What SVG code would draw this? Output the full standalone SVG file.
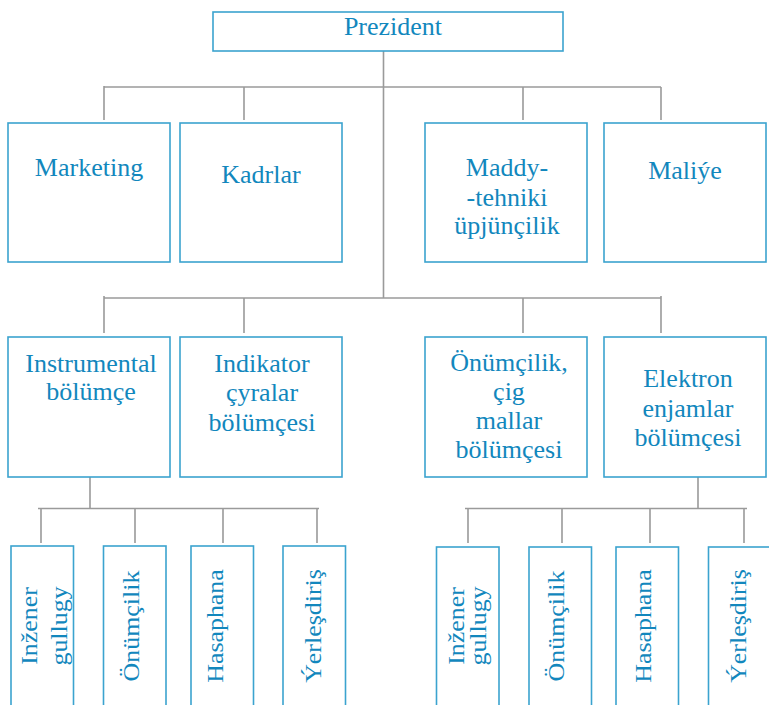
<svg xmlns="http://www.w3.org/2000/svg" width="769" height="705" viewBox="0 0 769 705">
<style>
.box{fill:#fff;stroke:#3ba3cf;stroke-width:1.6}
.t{font-family:"Liberation Serif","Times New Roman",serif;font-size:26px;fill:#1287bd;text-anchor:middle}
.v{font-family:"Liberation Serif","Times New Roman",serif;font-size:24px;fill:#1287bd;text-anchor:middle}
.c{fill:none;stroke:#9a9a9a;stroke-width:1.6}
</style>
<rect width="769" height="705" fill="#fff"/>
<g id="connectors" class="c">
<path d="M383.5,51 V298 M104,87 H661 M104,86 V120 M244,87 V120 M523,87 V120 M661,87 V120"/>
<path d="M104,298 H661 M104,296 V333 M244,298 V333 M523,298 V333 M661,296 V333"/>
<path d="M90,477 V508.5 M38,508.5 H319 M41,508.5 V543 M135,508.5 V543 M223,508.5 V543 M317,508.5 V543"/>
<path d="M698,477 V508.5 M465,508.5 H747 M468,508.5 V543 M562,508.5 V543 M650,508.5 V543 M744,508.5 V543"/>
</g>
<g id="prezident"><rect class="box" x="213" y="12" width="350" height="39"/><text class="t" x="393" y="35">Prezident</text></g>
<g id="marketing"><rect class="box" x="8" y="123" width="162" height="139"/><text class="t" x="89" y="176">Marketing</text></g>
<g id="kadrlar"><rect class="box" x="180" y="123" width="162" height="139"/><text class="t" x="261" y="183">Kadrlar</text></g>
<g id="maddy"><rect class="box" x="425" y="123" width="162" height="139"/><text class="t" x="507" y="176">Maddy-</text><text class="t" x="507" y="206">-tehniki</text><text class="t" x="507" y="234">üpjünçilik</text></g>
<g id="maliye"><rect class="box" x="604" y="123" width="162" height="139"/><text class="t" x="685" y="179">Maliýe</text></g>
<g id="instrumental"><rect class="box" x="8" y="337" width="162" height="140"/><text class="t" x="91" y="372">Instrumental</text><text class="t" x="91" y="400">bölümçe</text></g>
<g id="indikator"><rect class="box" x="180" y="337" width="162" height="140"/><text class="t" x="262" y="372">Indikator</text><text class="t" x="262" y="401">çyralar</text><text class="t" x="262" y="431">bölümçesi</text></g>
<g id="onumcilik-cig"><rect class="box" x="425" y="337" width="162" height="140"/><text class="t" x="509" y="371">Önümçilik,</text><text class="t" x="509" y="400">çig</text><text class="t" x="509" y="429">mallar</text><text class="t" x="509" y="458">bölümçesi</text></g>
<g id="elektron"><rect class="box" x="604" y="337" width="162" height="140"/><text class="t" x="688" y="387">Elektron</text><text class="t" x="688" y="417">enjamlar</text><text class="t" x="688" y="446">bölümçesi</text></g>
<g id="l-inzener"><rect class="box" x="11" y="546" width="62.5" height="180"/><text class="v" transform="translate(37,626) rotate(-90) scale(1.08,1)">Inžener</text><text class="v" transform="translate(67,626) rotate(-90) scale(1.08,1)">gullugy</text></g>
<g id="l-onumcilik"><rect class="box" x="103.5" y="546" width="62.5" height="180"/><text class="v" transform="translate(139,626) rotate(-90) scale(1.08,1)">Önümçilik</text></g>
<g id="l-hasaphana"><rect class="box" x="191" y="546" width="62.5" height="180"/><text class="v" transform="translate(223,626) rotate(-90) scale(1.08,1)">Hasaphana</text></g>
<g id="l-yerlesdiris"><rect class="box" x="283" y="546" width="62.5" height="180"/><text class="v" transform="translate(321,626) rotate(-90) scale(1.08,1)">Ýerleşdiriş</text></g>
<g id="r-inzener"><rect class="box" x="436.5" y="547" width="62.5" height="180"/><text class="v" transform="translate(464,626) rotate(-90) scale(1.08,1)">Inžener</text><text class="v" transform="translate(486,626) rotate(-90) scale(1.08,1)">gullugy</text></g>
<g id="r-onumcilik"><rect class="box" x="529" y="547" width="62.5" height="180"/><text class="v" transform="translate(564,626) rotate(-90) scale(1.08,1)">Önümçilik</text></g>
<g id="r-hasaphana"><rect class="box" x="616" y="547" width="62.5" height="180"/><text class="v" transform="translate(651,626) rotate(-90) scale(1.08,1)">Hasaphana</text></g>
<g id="r-yerlesdiris"><rect class="box" x="708.5" y="547" width="62.5" height="180"/><text class="v" transform="translate(746,626) rotate(-90) scale(1.08,1)">Ýerleşdiriş</text></g>
</svg>
